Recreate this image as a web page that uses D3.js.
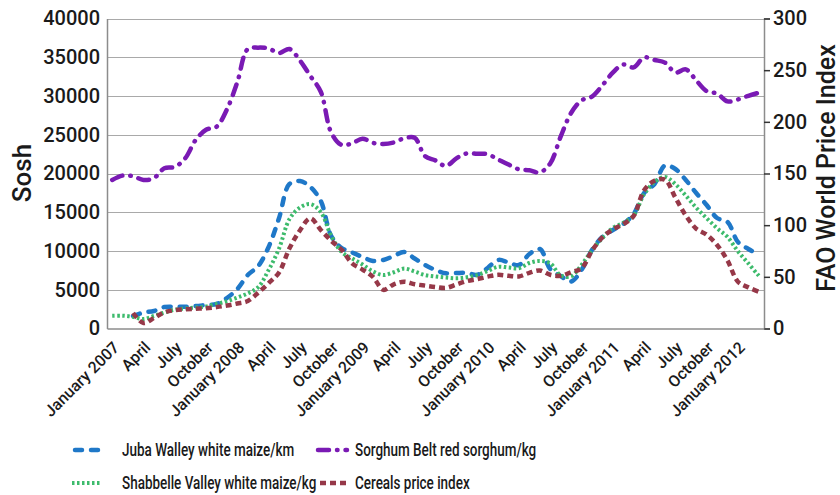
<!DOCTYPE html>
<html>
<head>
<meta charset="utf-8">
<script src="https://cdn.jsdelivr.net/npm/d3@7"></script>
<style>
  body { margin: 0; background: #fff; }
  text { font-family: Roboto, "Liberation Sans", sans-serif; fill: #1a1a1a; }
</style>
</head>
<body>
<div id="chart"></div>
<script>
// monthly categories, January 2007 .. March 2012
var months = d3.timeMonth.range(new Date(2007, 0, 1), new Date(2012, 3, 1));

var tickLabels = ["January 2007", "April", "July", "October",
                  "January 2008", "April", "July", "October",
                  "January 2009", "April", "July", "October",
                  "January 2010", "April", "July", "October",
                  "January 2011", "April", "July", "October",
                  "January 2012"];

var leftTicks = [0, 5000, 10000, 15000, 20000, 25000, 30000, 35000, 40000];
var rightTicks = [0, 50, 100, 150, 200, 250, 300];

// Sosh (left axis)
var juba = [null, null, 1610, 2060, 2260, 2770, 2810, 2810, 2900, 3030,
            3160, 3940, 5100, 6900, 8060, 10520, 14260, 18650, 19030, 18260,
            16450, 11940, 10390, 9810, 9230, 8710, 8840, 9350, 9870, 9030,
            8190, 7550, 7120, 7160, 7170, 6930, 7810, 8840, 8520, 8190,
            9610, 10260, 7680, 6770, 6060, 7550, 10130, 11810, 12710, 13480,
            14770, 17480, 18650, 21030, 20580, 19160, 17480, 15940, 14260, 13740,
            11160, 10260, 9550];

var shabbelle = [1650, 1650, 1500, 1230, 1610, 2060, 2440, 2580, 2710, 2830,
                 3160, 3520, 3990, 4530, 5330, 7550, 10320, 14130, 15600, 16050,
                 15030, 11940, 9870, 9050, 8250, 7370, 6900, 7260, 7730, 7350,
                 6900, 6710, 6570, 6490, 6610, 6880, 7420, 7960, 7870, 7780,
                 8450, 8710, 8410, 6850, 6740, 8190, 10080, 11680, 12970, 13640,
                 14580, 17320, 18890, 19560, 18620, 17150, 15590, 14230, 12940, 11810,
                 9960, 8400, 6800];

var sorghum = [19160, 19730, 19650, 19160, 19400, 20680, 20850, 21960, 24320, 25640,
               26030, 28270, 31800, 36060, 36240, 36130, 35550, 36060, 34580, 32580,
               30550, 25280, 23680, 23900, 24490, 23950, 23810, 24010, 24540, 24610,
               22230, 21680, 20970, 21960, 22590, 22550, 22480, 21810, 21150, 20540,
               20410, 20140, 21300, 24750, 27800, 29430, 29920, 31370, 33010, 34060,
               33690, 34980, 34650, 34310, 33030, 33440, 32010, 30630, 30310, 29300,
               29560, 30030, 30430];

// FAO index (right axis)
var cereals = [null, null, 15.0, 5.3, 10.2, 15.6, 17.7, 18.5, 19.1, 19.6,
               20.7, 22.2, 24.2, 26.6, 34.7, 43.9, 54.3, 77.6, 94.9, 106.6,
               95.4, 84.9, 76.2, 63.1, 57.0, 49.9, 37.4, 42.8, 45.2, 42.9,
               41.5, 40.2, 39.3, 42.6, 45.8, 47.8, 50.2, 51.9, 51.0, 50.4,
               53.9, 56.2, 52.0, 51.0, 54.5, 58.3, 75.2, 88.1, 95.9, 100.9,
               109.0, 133.8, 143.0, 144.0, 126.7, 109.4, 96.6, 90.8, 80.8, 65.8,
               45.3, 39.8, 35.6];

var series = [
    {name: "Juba Walley white maize/km", values: juba, axis: "left",
        color: "#1f78c8", width: 4.5, dash: "7,9", cap: "round"},
    {name: "Shabbelle Valley white maize/kg", values: shabbelle, axis: "left",
        color: "#3dbb6c", width: 4, dash: "2.5,2.5", cap: "butt"},
    {name: "Sorghum Belt red sorghum/kg", values: sorghum, axis: "left",
        color: "#7a1ab4", width: 4.5, dash: "11,8,0.5,8", cap: "round"},
    {name: "Cereals price index", values: cereals, axis: "right",
        color: "#963848", width: 4.5, dash: "6,4", cap: "butt"}
];

var width = 840, height = 495;
var plot = {left: 107, right: 764, top: 18.5, bottom: 328.5};

var svg = d3.select("#chart")
    .append("svg")
        .attr("width", width)
        .attr("height", height);

var x = d3.scaleBand()
    .domain(months)
    .range([plot.left, plot.right]);
var cx = function (d) { return x(d) + x.bandwidth() / 2; };

var yL = d3.scaleLinear()
    .domain([0, 40000])
    .range([plot.bottom, plot.top]);

var yR = d3.scaleLinear()
    .domain([0, 300])
    .range([plot.bottom, plot.top]);

// gridlines
svg.append("g")
    .selectAll("line")
    .data(leftTicks.slice(1))
    .enter()
    .append("line")
        .attr("x1", plot.left)
        .attr("x2", plot.right)
        .attr("y1", function (d) { return Math.round(yL(d)) + 0.5; })
        .attr("y2", function (d) { return Math.round(yL(d)) + 0.5; })
        .style("stroke", "#a9a9a9")
        .style("stroke-width", 1);

// left axis
var gl = svg.append("g")
    .attr("transform", "translate(" + plot.left + ",0)")
    .call(d3.axisLeft(yL).tickValues(leftTicks).tickSize(0).tickPadding(7).tickFormat(d3.format("d")));
gl.select(".domain").style("stroke", "#8c8c8c").style("stroke-width", 1.5);
gl.selectAll("text").style("font-size", "20px").style("font-weight", 500);

// right axis
var gr = svg.append("g")
    .attr("transform", "translate(" + plot.right + ",0)")
    .call(d3.axisRight(yR).tickValues(rightTicks).tickSize(6).tickPadding(3));
gr.select(".domain").style("stroke", "#8c8c8c").style("stroke-width", 1.5);
gr.selectAll(".tick line").style("stroke", "#333").style("stroke-width", 1.5);
gr.selectAll("text").style("font-size", "20px").style("font-weight", 500);

// bottom axis
var labelMonths = months.filter(function (d, i) { return i % 3 === 0; });
var gb = svg.append("g")
    .attr("transform", "translate(0," + plot.bottom + ")")
    .call(d3.axisBottom(x).tickValues(labelMonths).tickSize(0)
        .tickFormat(function (d, i) { return tickLabels[i]; }));
gb.select(".domain").style("stroke", "#8c8c8c").style("stroke-width", 1.5);
gb.selectAll("text")
    .style("font-size", "16px")
    .style("font-weight", 500)
    .attr("text-anchor", "end")
    .attr("x", 0)
    .attr("y", 0)
    .attr("dy", "0.35em")
    .attr("transform", "translate(4,16) rotate(-45)");

// axis titles
svg.append("text")
    .attr("transform", "translate(31,173) rotate(-90)")
    .attr("text-anchor", "middle")
    .style("font-size", "26px")
    .style("font-weight", 500)
    .text("Sosh");

svg.append("text")
    .attr("transform", "translate(835,168) rotate(-90)")
    .attr("text-anchor", "middle")
    .style("font-size", "25px")
    .style("font-weight", 500)
    .text("FAO World Price Index");

// lines
series.forEach(function (s) {
    var y = s.axis === "left" ? yL : yR;
    var line = d3.line()
        .defined(function (d) { return d != null; })
        .x(function (d, i) { return cx(months[i]); })
        .y(function (d) { return y(d); })
        .curve(d3.curveCatmullRom.alpha(0.5));
    svg.append("path")
        .datum(s.values)
        .attr("d", line)
        .style("fill", "none")
        .style("stroke", s.color)
        .style("stroke-width", s.width)
        .style("stroke-dasharray", s.dash)
        .style("stroke-linecap", s.cap);
});

// legend (text squeezed horizontally to match the narrow face of the original)
var legendPos = [
    {x: 75, y: 450}, {x: 72, y: 483}, {x: 318, y: 450}, {x: 320, y: 483}
];
var legend = svg.append("g").attr("class", "legend");
series.forEach(function (s, i) {
    var p = legendPos[i];
    legend.append("line")
        .attr("x1", p.x).attr("x2", p.x + 29)
        .attr("y1", p.y).attr("y2", p.y)
        .style("stroke", s.color)
        .style("stroke-width", s.width)
        .style("stroke-dasharray", s.dash)
        .style("stroke-linecap", s.cap);
    legend.append("text")
        .attr("transform", "translate(" + (i < 2 ? 122 : 355) + "," + p.y + ") scale(0.77,1)")
        .attr("dy", "0.36em")
        .style("font-size", "17.5px")
        .style("font-weight", 500)
        .text(s.name);
});
</script>
</body>
</html>
